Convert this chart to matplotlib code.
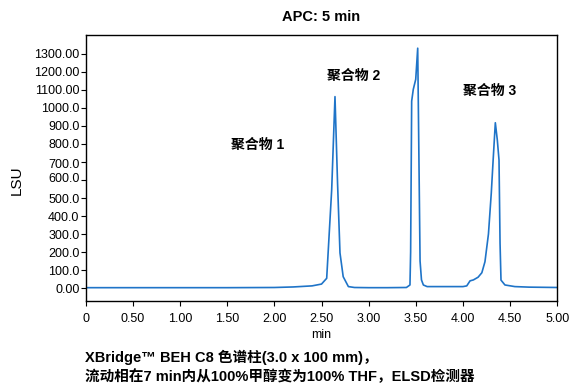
import matplotlib
matplotlib.use("Agg")
import matplotlib.pyplot as plt
import matplotlib.transforms as mtransforms

plt.rcParams["font.family"] = ["Liberation Sans", "Noto Sans CJK SC"]

# chromatogram trace (min, LSU)
time_min = [0, 0.5, 1.0, 1.5, 2.0, 2.2, 2.4, 2.5, 2.555, 2.608, 2.643, 2.67,
            2.696, 2.73, 2.785, 2.85, 3.0, 3.2, 3.4, 3.438, 3.445, 3.456,
            3.473, 3.499, 3.52, 3.545, 3.56, 3.58, 3.62, 3.8, 4.0, 4.04,
            4.075, 4.11, 4.16, 4.2, 4.233, 4.27, 4.30, 4.32, 4.343, 4.364,
            4.382, 4.393, 4.403, 4.445, 4.55, 4.7, 4.85, 5.0]
signal_lsu = [2, 2, 2, 2, 3, 6, 12, 22, 54, 546, 1063, 585,
              195, 63, 8, 3, 2, 2, 3, 17, 200, 1038,
              1103, 1159, 1332, 150, 45, 17, 8, 8, 8, 12,
              40, 45, 60, 85, 146, 300, 527, 713, 918, 822,
              711, 248, 44, 17, 8, 5, 4, 3]

peak_labels = ["聚合物 1", "聚合物 2", "聚合物 3"]
peak_label_x = [1.827, 2.837, 4.278]
peak_label_y = [793, 1177, 1093]

x_ticks = [0, 0.5, 1.0, 1.5, 2.0, 2.5, 3.0, 3.5, 4.0, 4.5, 5.0]
x_tick_labels = ["0", "0.50", "1.00", "1.50", "2.00", "2.50", "3.00",
                 "3.50", "4.00", "4.50", "5.00"]
y_ticks = list(range(0, 1400, 100))
y_tick_labels = ["0.00", "100.0", "200.0", "300.0", "400.0", "500.0", "600.0",
                 "700.0", "800.0", "900.0", "1000.0", "1100.00", "1200.00",
                 "1300.00"]

W, H = 571, 385
fig = plt.figure(figsize=(W / 100, H / 100), dpi=100)
ax = fig.add_axes([85.7 / W, 1 - 301 / H, (557.3 - 85.7) / W, (301 - 34.5) / H])

ax.plot(time_min, signal_lsu, color="#1f74c8", linewidth=1.2)

for txt, x, y in zip(peak_labels, peak_label_x, peak_label_y):
    ax.text(x, y, txt, ha="center", va="center", fontsize=10, fontweight="bold")

ax.set_xlim(0, 5)
ax.set_ylim(-72, 1408)
ax.set_xticks(x_ticks)
ax.set_xticklabels(x_tick_labels)
ax.set_yticks(y_ticks)
ax.set_yticklabels(y_tick_labels)
ax.tick_params(axis="both", labelsize=9, length=3.5, width=0.8, direction="out")
ax.tick_params(axis="y", pad=1)
ax.tick_params(axis="x", pad=5)
for sp in ax.spines.values():
    sp.set_linewidth(1.0)

# the 600/700 labels sit a bit squeezed together in the original
labels = ax.get_yticklabels()
labels[6].set_transform(labels[6].get_transform()
                        + mtransforms.ScaledTranslation(0, 2 / 100, fig.dpi_scale_trans))
labels[7].set_transform(labels[7].get_transform()
                        + mtransforms.ScaledTranslation(0, -1.5 / 100, fig.dpi_scale_trans))

fig.text(321.5 / W, 1 - 16.7 / H, "APC: 5 min", ha="center", va="center",
         fontsize=10.5, fontweight="bold")
fig.text(16.7 / W, 1 - 180 / H, "LSU", rotation=90, ha="center", va="center",
         fontsize=11)
fig.text(321.5 / W, 1 - 335 / H, "min", ha="center", va="center", fontsize=9)
fig.text(85 / W, 1 - 357 / H, "XBridge™ BEH C8 色谱柱(3.0 x 100 mm)，",
         ha="left", va="center", fontsize=10.5, fontweight="bold")
fig.text(85 / W, 1 - 376.5 / H, "流动相在7 min内从100%甲醇变为100% THF，ELSD检测器",
         ha="left", va="center", fontsize=10.5, fontweight="bold")

fig.savefig("out.png", dpi=100)
plt.close(fig)
